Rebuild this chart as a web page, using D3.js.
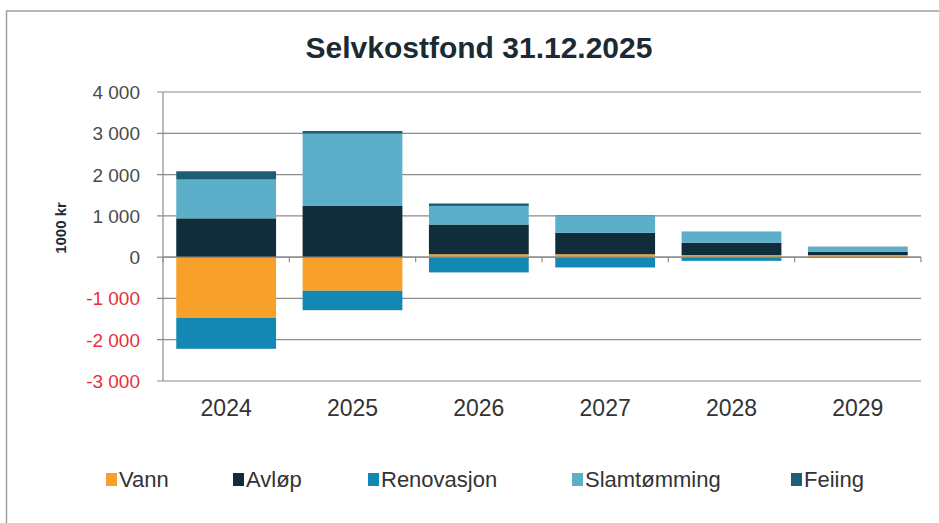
<!DOCTYPE html>
<html lang="en">
<head>
    <meta charset="UTF-8">
    <title>Selvkostfond</title>
    <script src="https://d3js.org/d3.v7.min.js"></script>
    <style>
        body { margin: 0; background: #fff; }
        text { font-family: 'Liberation Sans', Arial, sans-serif; }
    </style>
</head>
<body>
<script>

    const width  = 939;
    const height = 523;

    const years  = ['2024', '2025', '2026', '2027', '2028', '2029'];
    const series = ['Vann', 'Avløp', 'Renovasjon', 'Slamtømming', 'Feiing'];
    const colors = ['#f7a12a', '#0f2d3a', '#1488b5', '#5bafc9', '#1d5e73'];

    const vann        = [-1470, -815,   70,   70,  50,  50];
    const avlop       = [  940, 1240,  720,  520, 300,  80];
    const renovasjon  = [ -750, -470, -370, -250, -90, -20];
    const slamtomming = [  940, 1755,  450,  405, 265, 120];
    const feiing      = [  200,   60,   60,   10,   5,   5];

    const yTicks = [-3000, -2000, -1000, 0, 1000, 2000, 3000, 4000];

    const data = years.map((y, i) => ({
        year: y,
        'Vann': vann[i],
        'Avløp': avlop[i],
        'Renovasjon': renovasjon[i],
        'Slamtømming': slamtomming[i],
        'Feiing': feiing[i]
    }));

    const stack = d3.stack()
            .keys(series)
            .offset(d3.stackOffsetDiverging);
    const stacked = stack(data);

    const x = d3.scaleBand()
            .domain(years)
            .range([163, 921])
            .paddingInner(0.21)
            .paddingOuter(0.105);
    const y = d3.scaleLinear()
            .domain([-3000, 4000])
            .range([381, 92]);

    const svg = d3.select("body")
            .append("svg")
            .attr("width", width)
            .attr("height", height);

    // outer chart border
    svg.append("rect")
            .attr("x", 6.5).attr("y", 11)
            .attr("width", 940).attr("height", 520)
            .attr("fill", "none")
            .attr("stroke", "#a0a0a0")
            .attr("stroke-width", 1.5);

    svg.append("text")
            .text("Selvkostfond 31.12.2025")
            .attr("x", 479).attr("y", 58)
            .attr("text-anchor", "middle")
            .style("font-size", "30px")
            .style("font-weight", "bold")
            .style("fill", "#1b2a33");

    // grid
    svg.append("g")
            .selectAll("line")
            .data(yTicks)
            .enter()
            .append("line")
            .attr("x1", 157).attr("x2", 921)
            .attr("y1", d => y(d)).attr("y2", d => y(d))
            .attr("stroke", "#8c8c8c")
            .attr("stroke-width", 1.2);

    // y labels, space as thousands separator and plain hyphen for minus
    const fmt = d => (d < 0 ? "-" : "") + d3.format(",")(Math.abs(d)).replace(/,/g, " ");
    svg.append("g")
            .selectAll("text")
            .data(yTicks)
            .enter()
            .append("text")
            .text(fmt)
            .attr("x", 140)
            .attr("y", d => y(d) + 7)
            .attr("text-anchor", "end")
            .style("font-size", "19px")
            .style("fill", d => d < 0 ? "#e8303c" : "#4a4a4a");

    svg.append("text")
            .text("1000 kr")
            .attr("transform", "translate(66,228) rotate(-90)")
            .attr("text-anchor", "middle")
            .style("font-size", "15px")
            .style("font-weight", "bold")
            .style("fill", "#1b2a33");

    // bars
    svg.append("g")
            .selectAll("g")
            .data(stacked)
            .enter()
            .append("g")
            .attr("fill", (d, i) => colors[i])
            .selectAll("rect")
            .data(d => d)
            .enter()
            .append("rect")
            .attr("x", d => x(d.data.year))
            .attr("width", x.bandwidth())
            .attr("y", d => y(Math.max(d[0], d[1])))
            .attr("height", d => Math.abs(y(d[0]) - y(d[1])));

    // axes lines
    svg.append("line")
            .attr("x1", 163).attr("x2", 163)
            .attr("y1", y(4000)).attr("y2", y(-3000))
            .attr("stroke", "#8c8c8c").attr("stroke-width", 1.2);
    svg.append("line")
            .attr("x1", 163).attr("x2", 921)
            .attr("y1", y(0)).attr("y2", y(0))
            .attr("stroke", "#8c8c8c").attr("stroke-width", 1.2);
    const bounds = d3.range(years.length + 1).map(i => 163 + i * (921 - 163) / years.length);
    svg.append("g")
            .selectAll("line")
            .data(bounds)
            .enter()
            .append("line")
            .attr("x1", d => d).attr("x2", d => d)
            .attr("y1", y(0)).attr("y2", y(0) + 5)
            .attr("stroke", "#8c8c8c").attr("stroke-width", 1.2);

    // x labels
    svg.append("g")
            .selectAll("text")
            .data(years)
            .enter()
            .append("text")
            .text(d => d)
            .attr("x", d => x(d) + x.bandwidth() / 2)
            .attr("y", 416)
            .attr("text-anchor", "middle")
            .style("font-size", "23px")
            .style("fill", "#333");

    // legend
    const legendX = [106, 233, 368, 572, 791];
    const legend = svg.append("g")
            .selectAll("g")
            .data(series)
            .enter()
            .append("g")
            .attr("transform", (d, i) => "translate(" + [legendX[i], 487] + ")");
    legend.append("rect")
            .attr("x", 0).attr("y", -14)
            .attr("width", 11).attr("height", 13)
            .attr("fill", (d, i) => colors[i]);
    legend.append("text")
            .text(d => d)
            .attr("x", 13).attr("y", 0)
            .style("font-size", "22px")
            .style("fill", "#333");

</script>
</body>
</html>
